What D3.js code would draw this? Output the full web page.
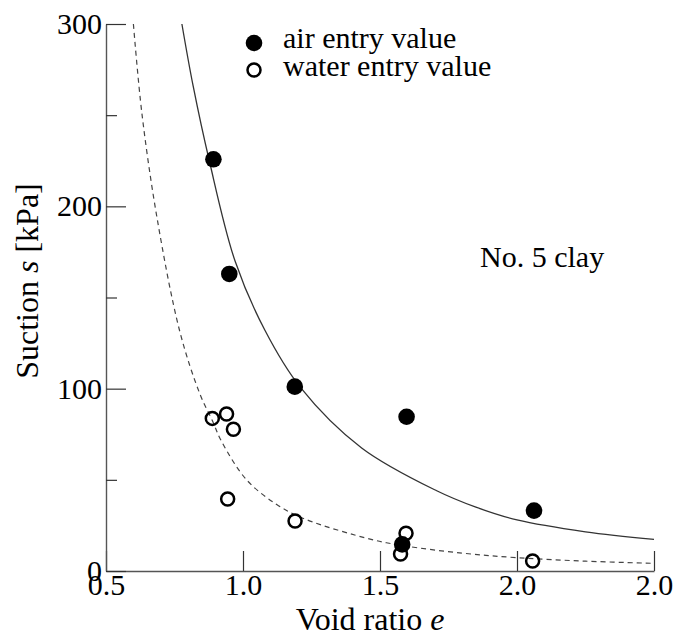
<!DOCTYPE html>
<html>
<head>
<meta charset="utf-8">
<script src="https://cdn.jsdelivr.net/npm/d3@7"></script>
<style>
  html, body { margin: 0; padding: 0; background: #fff; }
  svg { display: block; }
  svg text { font-family: "Liberation Serif", "Times New Roman", "DejaVu Serif", serif; }
</style>
</head>
<body>
<svg id="chart" width="675" height="637"></svg>
<script>
// Air entry value (filled) and water entry value (open) for No. 5 clay
const airVoid    = [0.892, 0.950, 1.189, 1.597, 2.062, 1.581];
const airSuction = [225.8, 162.9, 101.1, 84.6, 33.1, 14.6];

const waterVoid    = [0.888, 0.940, 0.965, 0.944, 1.190, 1.595, 1.575, 2.057];
const waterSuction = [83.7, 86.1, 77.7, 39.5, 27.4, 20.7, 9.3, 5.5];

// Fitted curves, sampled along void ratio
const airCurveVoid    = [0.777, 0.818, 0.877, 0.971, 1.08, 1.208, 1.433, 1.707, 1.85, 2.0, 2.25, 2.5];
const airCurveSuction = [300, 266, 225, 170, 132, 101, 67.5, 44, 35, 28, 21.5, 17.4];

const waterCurveVoid    = [0.600, 0.631, 0.687, 0.770, 0.843, 0.888, 0.922, 1.013, 1.123, 1.226, 1.464, 1.58, 1.8, 2.0, 2.25, 2.5];
const waterCurveSuction = [300, 251, 193, 131, 97, 82.5, 71, 50, 36.5, 28.5, 17.5, 14.0, 9.8, 7.3, 5.4, 4.2];

// Axis ticks
const xTickValues = [0.5, 1.0, 1.5, 2.0, 2.5];
const xTickLabels = ["0.5", "1.0", "1.5", "2.0", "2.0"];
const yTickValues = [0, 100, 200, 300];
const yMinorTicks = [50, 150, 250];

const svg = d3.select("#chart");

const x = d3.scaleLinear().domain([0.5, 2.5]).range([106, 654]);
const y = d3.scaleLinear().domain([0, 300]).range([571, 24]);

const fontSize = 30;
const titleSize = 32;
const serif = '"Liberation Serif", "Times New Roman", "DejaVu Serif", serif';

// Axes
const xAxis = d3.axisBottom(x)
  .tickValues(xTickValues)
  .tickFormat((d, i) => xTickLabels[i])
  .tickSizeInner(-20)
  .tickSizeOuter(0)
  .tickPadding(3);

const gx = svg.append("g").attr("transform", `translate(0,${y(0)})`).call(xAxis);

const yAxis = d3.axisLeft(y)
  .tickValues(yTickValues)
  .tickFormat(d3.format("d"))
  .tickSizeInner(-20)
  .tickSizeOuter(0)
  .tickPadding(4);

const gy = svg.append("g").attr("transform", `translate(${x(0.5)},0)`).call(yAxis);

const yMinor = d3.axisLeft(y)
  .tickValues(yMinorTicks)
  .tickFormat("")
  .tickSizeInner(-11)
  .tickSizeOuter(0);

const gym = svg.append("g").attr("transform", `translate(${x(0.5)},0)`).call(yMinor);
gym.select(".domain").remove();

[gx, gy, gym].forEach(g => {
  g.attr("font-family", serif);
  g.select(".domain").attr("stroke", "#555").attr("stroke-width", 1.4);
  g.selectAll(".tick line").attr("stroke", "#333").attr("stroke-width", 1.2);
  g.selectAll(".tick text")
    .attr("fill", "#000")
    .style("font-size", fontSize + "px");
});

// Axis titles
const xTitle = svg.append("text")
  .attr("x", 370)
  .attr("y", 630)
  .attr("text-anchor", "middle")
  .style("font-size", titleSize + "px")
  .attr("fill", "#000");
xTitle.append("tspan").text("Void ratio ");
xTitle.append("tspan").style("font-style", "italic").text("e");

const yTitle = svg.append("text")
  .attr("transform", "translate(38,281) rotate(-90)")
  .attr("text-anchor", "middle")
  .style("font-size", titleSize + "px")
  .attr("fill", "#000");
yTitle.append("tspan").text("Suction ");
yTitle.append("tspan").style("font-style", "italic").text("s");
yTitle.append("tspan").text(" [kPa]");

// Curves
const line = d3.line()
  .x(d => x(d[0]))
  .y(d => y(d[1]))
  .curve(d3.curveCatmullRom.alpha(0.5));

const airCurve = airCurveVoid.map((e, i) => [e, airCurveSuction[i]]);
const waterCurve = waterCurveVoid.map((e, i) => [e, waterCurveSuction[i]]);

svg.append("path")
  .datum(waterCurve)
  .attr("d", line)
  .attr("fill", "none")
  .attr("stroke", "#444")
  .attr("stroke-width", 1.2)
  .attr("stroke-dasharray", "5,4");

svg.append("path")
  .datum(airCurve)
  .attr("d", line)
  .attr("fill", "none")
  .attr("stroke", "#333")
  .attr("stroke-width", 1.3);

// Points
const waterPts = waterVoid.map((e, i) => [e, waterSuction[i]]);
const airPts = airVoid.map((e, i) => [e, airSuction[i]]);

svg.append("g").selectAll("circle")
  .data(waterPts)
  .join("circle")
  .attr("cx", d => x(d[0]))
  .attr("cy", d => y(d[1]))
  .attr("r", 6.5)
  .attr("fill", "none")
  .attr("stroke", "#000")
  .attr("stroke-width", 2.5);

svg.append("g").selectAll("circle")
  .data(airPts)
  .join("circle")
  .attr("cx", d => x(d[0]))
  .attr("cy", d => y(d[1]))
  .attr("r", 8.3)
  .attr("fill", "#000");

// Legend
const legend = svg.append("g");
legend.append("circle").attr("cx", 254).attr("cy", 43).attr("r", 8.3).attr("fill", "#000");
legend.append("circle").attr("cx", 254).attr("cy", 70).attr("r", 6.5)
  .attr("fill", "none").attr("stroke", "#000").attr("stroke-width", 2.5);
legend.append("text").attr("x", 283).attr("y", 48)
  .style("font-size", fontSize + "px").attr("fill", "#000").text("air entry value");
legend.append("text").attr("x", 283).attr("y", 76)
  .style("font-size", fontSize + "px").attr("fill", "#000").text("water entry value");

// Annotation
svg.append("text").attr("x", 480).attr("y", 267)
  .style("font-size", fontSize + "px").attr("fill", "#000").text("No. 5 clay");
</script>
</body>
</html>
